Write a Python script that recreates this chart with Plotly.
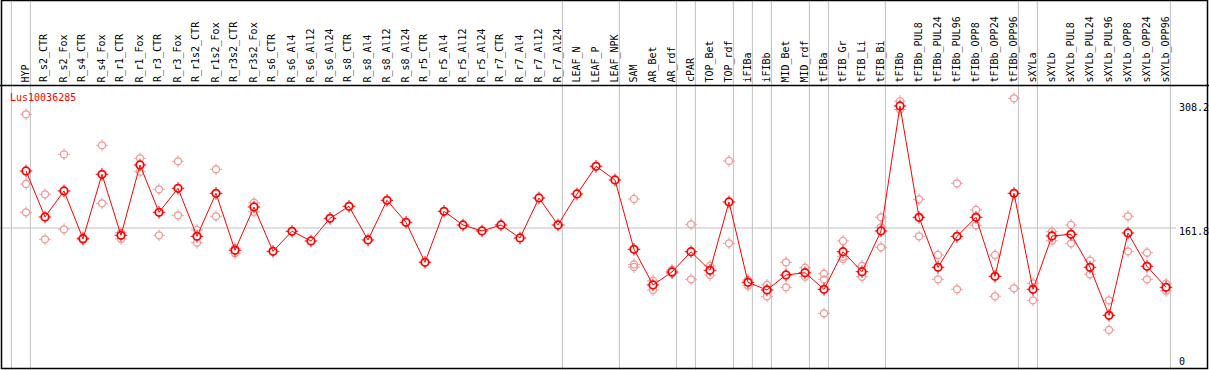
import plotly.graph_objects as go

title = "Lus10036285"

categories = [
    "HYP", "R_s2_CTR", "R_s2_Fox", "R_s4_CTR", "R_s4_Fox", "R_r1_CTR", "R_r1_Fox",
    "R_r3_CTR", "R_r3_Fox", "R_r1s2_CTR", "R_r1s2_Fox", "R_r3s2_CTR", "R_r3s2_Fox",
    "R_s6_CTR", "R_s6_Al4", "R_s6_Al12", "R_s6_Al24", "R_s8_CTR", "R_s8_Al4",
    "R_s8_Al12", "R_s8_Al24", "R_r5_CTR", "R_r5_Al4", "R_r5_Al12", "R_r5_Al24",
    "R_r7_CTR", "R_r7_Al4", "R_r7_Al12", "R_r7_Al24", "LEAF_N", "LEAF_P", "LEAF_NPK",
    "SAM", "AR_Bet", "AR_rdf", "cPAR", "TOP_Bet", "TOP_rdf", "iFIBa", "iFIBb",
    "MID_Bet", "MID_rdf", "tFIBa", "tFIB_Gr", "tFIB_Li", "tFIB_Bi", "tFIBb",
    "tFIBb_PUL8", "tFIBb_PUL24", "tFIBb_PUL96", "tFIBb_OPP8", "tFIBb_OPP24",
    "tFIBb_OPP96", "sXYLa", "sXYLb", "sXYLb_PUL8", "sXYLb_PUL24", "sXYLb_PUL96",
    "sXYLb_OPP8", "sXYLb_OPP24", "sXYLb_OPP96",
]

means = [
    230.2, 175.0, 206.2, 148.9, 226.2, 153.0, 237.4, 180.6, 209.4, 151.8, 203.4,
    135.0, 187.0, 133.8, 157.8, 146.2, 173.4, 187.8, 147.4, 195.0, 168.6, 120.6,
    181.8, 165.4, 158.2, 165.4, 149.8, 197.8, 165.4, 202.6, 235.8, 219.4,
    136.2, 93.4, 109.0, 133.3, 111.0, 193.0, 96.6, 87.4, 105.4, 108.1, 88.2,
    133.3, 109.3, 158.2, 308.2, 174.6, 114.6, 151.8, 174.6, 103.8, 203.4,
    88.2, 152.2, 154.2, 114.6, 57.0, 155.8, 115.8, 90.6,
]

replicates = [
    [298.2, 214.6, 180.6], [202.2, 148.2], [250.2, 160.2], [150.1, 147.7],
    [261.0, 191.4], [156.1, 148.6], [245.4, 229.3], [208.2, 153.0],
    [241.8, 177.0], [159.4, 144.1], [232.2, 175.8], [137.4, 131.4],
    [192.1, 181.3],
    [], [], [], [], [], [], [], [], [], [], [], [], [], [], [], [], [], [], [],
    [196.6, 118.0, 115.0], [98.5, 87.4], [111.4, 107.4], [166.2, 100.2],
    [116.2, 105.4], [242.2, 143.4], [99.4, 92.5], [93.4, 79.8], [120.6, 90.6],
    [114.1, 103.3], [106.9, 100.2, 59.4], [146.2, 127.3, 124.6], [116.2, 103.3],
    [174.6, 162.6, 138.6], [314.0, 304.0], [196.2, 151.8], [129.4, 100.2],
    [215.4, 88.2], [183.4, 165.0], [129.4, 79.8], [317.4, 89.4], [95.4, 75.0],
    [157.3, 146.5], [165.4, 143.4], [122.5, 106.2], [75.0, 39.4], [175.8, 133.8],
    [132.1, 100.2], [94.9, 86.5],
]

# group boundaries: a separator is drawn just after these category indices
group_ends = [-1, 0, 28, 31, 34, 35, 37, 38, 39, 41, 42, 45, 52, 53, 60]

tick_values = [0, 161.8, 308.2]
mid_line_value = 161.8

W, H = 1209, 370
X_RANGE = [-26 / 19, (W - 26) / 19]
Y_RANGE = [-8.64, 435.36]

RED = "#ff0000"
PALE = "#f09a9a"
GRAY = "#c0c0c0"
FONT = "DejaVu Sans Mono"

idx = list(range(len(categories)))
rx, ry = [], []
for i, vals in enumerate(replicates):
    for v in vals:
        rx.append(i)
        ry.append(v)

fig = go.Figure()

# replicate markers
fig.add_trace(go.Scatter(x=rx, y=ry, mode="markers", hoverinfo="skip",
                         marker=dict(symbol="cross-thin-open", size=8.5, color=PALE,
                                     line=dict(color=PALE, width=1))))
fig.add_trace(go.Scatter(x=rx, y=ry, mode="markers", hoverinfo="skip",
                         marker=dict(symbol="circle", size=6, color="white",
                                     line=dict(width=0))))
fig.add_trace(go.Scatter(x=rx, y=ry, mode="markers", hoverinfo="skip",
                         marker=dict(symbol="circle-open", size=7, color=PALE,
                                     line=dict(color=PALE, width=1.3))))
# mean markers
fig.add_trace(go.Scatter(x=idx, y=means, mode="markers", hoverinfo="skip",
                         marker=dict(symbol="cross-thin-open", size=9, color=RED,
                                     line=dict(color=RED, width=1))))
fig.add_trace(go.Scatter(x=idx, y=means, mode="markers", hoverinfo="skip",
                         marker=dict(symbol="circle", size=6.5, color="white",
                                     line=dict(width=0))))
fig.add_trace(go.Scatter(x=idx, y=means, mode="lines", hoverinfo="skip",
                         line=dict(color=RED, width=1)))
fig.add_trace(go.Scatter(x=idx, y=means, mode="markers",
                         text=categories,
                         marker=dict(symbol="circle-open", size=7.5, color=RED,
                                     line=dict(color=RED, width=1.8))))

shapes = []
# separators
for g in group_ends:
    shapes.append(dict(type="line", xref="x", yref="paper", x0=g + 0.23, x1=g + 0.23,
                       y0=0, y1=1, line=dict(color=GRAY, width=1), layer="below"))
# mid reference line
shapes.append(dict(type="line", xref="paper", yref="y", x0=0, x1=1176 / W,
                   y0=mid_line_value, y1=mid_line_value,
                   line=dict(color=GRAY, width=1), layer="below"))
# frame
shapes.append(dict(type="rect", xref="paper", yref="paper", x0=1.5 / W, x1=1 - 1.5 / W,
                   y0=1.5 / H, y1=1 - 0.5 / H, line=dict(color="black", width=1.5),
                   layer="above"))
shapes.append(dict(type="line", xref="paper", yref="paper", x0=0, x1=1,
                   y0=1 - 85.5 / H, y1=1 - 85.5 / H, line=dict(color="black", width=1.5)))

annotations = []
for i, c in enumerate(categories):
    annotations.append(dict(x=i - 0.05, xref="x", y=1 - 83.5 / H, yref="paper",
                            text=c, textangle=-90, showarrow=False,
                            xanchor="center", yanchor="bottom",
                            font=dict(family=FONT, size=10, color="black"), borderpad=0))
label_shifts = [1, -4, -2]
for v, s in zip(tick_values, label_shifts):
    annotations.append(dict(x=1178 / W, xref="paper", y=v, yref="y", yshift=s,
                            text=("%g" % v), showarrow=False,
                            xanchor="left", yanchor="middle",
                            font=dict(family=FONT, size=10, color="black"), borderpad=0))
annotations.append(dict(x=9 / W, xref="paper", y=1 - 97 / H, yref="paper",
                        text=title, showarrow=False, xanchor="left", yanchor="middle",
                        font=dict(family=FONT, size=10, color=RED), borderpad=0))

fig.update_layout(
    width=W, height=H, autosize=False,
    margin=dict(l=0, r=0, t=0, b=0),
    paper_bgcolor="white", plot_bgcolor="white",
    showlegend=False,
    xaxis=dict(range=X_RANGE, visible=False, fixedrange=True),
    yaxis=dict(range=Y_RANGE, visible=False, fixedrange=True),
    shapes=shapes, annotations=annotations,
)

fig.write_html(
    "out.html",
    config={"displayModeBar": False},
    post_script="document.body.style.margin='0';document.body.style.overflow='hidden';",
)
